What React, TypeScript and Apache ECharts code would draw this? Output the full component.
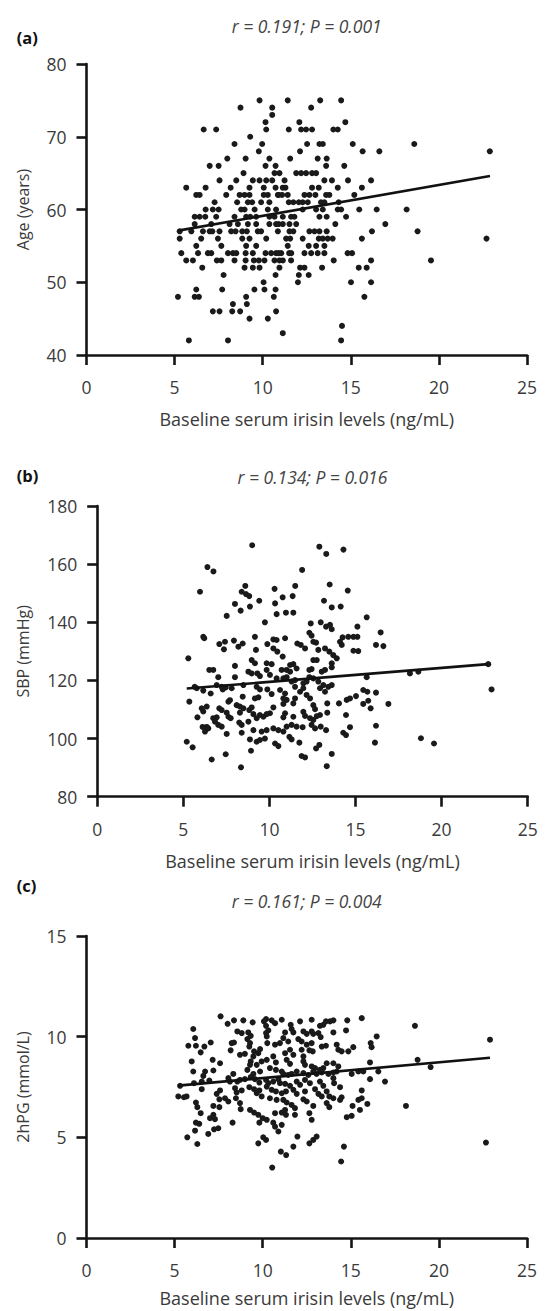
import React, { useEffect, useRef } from "react";
import * as echarts from "echarts";

const FONT = '"Open Sans", "Liberation Sans", sans-serif';

// Panel (a): irisin vs age
const pointsA: number[][] = [
[9.82,75],[8.74,74],[10.54,74],[10.54,73],[10.16,72],[10.2,71],[6.65,71],[7.36,71],[9.29,70],[8.4,69],[9.97,69],[9.78,68],[7.99,67],[9.03,67],[10.38,67],[6.99,66],[7.5,66],[10.16,66],[10.73,66],[8.91,65],[10.67,65],
[7.55,64],[8.5,64],[9.44,64],[9.82,64],[10.2,64],[10.54,64],
[5.66,63],[6.76,63],[8.18,63],[9.25,63],[10.06,63],[10.73,63],
[6.23,62],[6.42,62],[7.93,62],[8.69,62],[8.97,62],[9.25,62],[10.06,62],[10.29,62],[10.86,62],
[7.27,61],[8.55,61],[9.16,61],[9.4,61],[9.91,61],[10.38,61],
[6.76,60],[7.17,60],[7.5,60],[8.78,60],[8.97,60],[9.54,60],[10.29,60],[10.76,60],
[6.14,59],[6.42,59],[6.74,59],[7.36,59],[8.4,59],[9.06,59],[9.29,59],[9.63,59],[10.38,59],[10.67,59],
[6.14,58],[7.08,58],[8.12,58],[8.59,58],[9.16,58],[9.63,58],[10.38,58],[10.76,58],
[5.29,57],[5.95,57],[6.61,57],[6.99,57],[7.14,57],[7.55,57],[8.21,57],[8.46,57],[8.84,57],[9.1,57],[9.72,57],[9.91,57],[10.86,57],
[5.29,56],[6.51,56],[7.46,56],[8.84,56],[9.25,56],[10.2,56],
[6.23,55],[7.65,55],[9.06,55],[9.63,55],
[5.38,54],[6.33,54],[6.89,54],[7.08,54],[8.03,54],[8.31,54],[8.5,54],[9.03,54],[9.44,54],[10.16,54],[10.48,54],[10.76,54],
[5.66,53],[6.04,53],[7.4,53],[7.65,53],[8.4,53],[9.03,53],[9.5,53],[9.78,53],[10.1,53],[10.67,53],
[6.57,52],[8.97,52],[9.44,52],[9.82,52],
[7.78,51],[10.73,51],[10.05,50],
[6.23,49],[7.7,49],[9.53,49],[10.1,49],[10.73,49],
[5.19,48],[6.14,48],[6.38,48],[9.06,48],[10.63,48],
[8.31,47],[9.1,47],
[7.17,46],[7.55,46],[8.27,46],[8.72,46],[10.76,46],
[9.25,45],[10.29,45],[5.81,42],[8.03,42],
[11.42,75],[13.26,75],[14.45,75],[12.75,74],[12.08,72],[14.69,72],
[11.48,71],[12.18,71],[12.46,71],[12.8,71],[14.01,71],[14.26,71],
[12.52,69],[13.22,69],[13.41,69],[15.11,69],[12.12,68],[15.67,68],[16.62,68],
[11.56,67],[13.12,67],[13.63,67],[13.6,66],[14.63,66],
[10.95,65],[11.9,65],[12.18,65],[12.46,65],[12.8,65],[13.03,65],
[11.24,64],[13.5,64],[13.93,64],[14.84,64],[16.15,64],
[11.14,63],[11.29,63],[12.8,63],[13.18,63],[14.26,63],[15.63,63],
[10.91,62],[11.1,62],[11.42,62],[12.37,62],[12.65,62],[12.99,62],[13.6,62],[13.78,62],[15.2,62],
[11.48,61],[11.74,61],[12.05,61],[12.27,61],[12.56,61],[13.31,61],[13.5,61],[14.31,61],
[12.27,60],[13.03,60],[13.41,60],[14.26,60],[14.45,60],[15.48,60],[16.47,60],
[11.14,59],[11.61,59],[11.8,59],[13.22,59],[13.63,59],[14.73,59],
[10.91,58],[11.14,58],[11.52,58],[11.9,58],[14.12,58],[16.96,58],
[11.52,57],[11.74,57],[12.65,57],[12.94,57],[13.22,57],[13.63,57],[16.2,57],
[11.33,56],[11.56,56],[12.27,56],[13.18,56],[13.41,56],[13.69,56],[13.97,56],[15.63,56],
[11.42,55],[12.61,55],[13.03,55],[13.5,55],
[10.91,54],[11.05,54],[11.5,54],[11.62,54],[12.37,54],[12.75,54],[13.12,54],[13.5,54],[14.82,54],[15.07,54],
[10.95,53],[11.14,53],[11.61,53],[14.03,53],[16.15,53],
[10.95,52],[12.12,52],[12.37,52],[13.37,52],[15.45,52],[15.9,52],
[12.05,51],[12.61,51],[12.0,50],[15.01,50],[16.15,50],
[15.77,48],[14.5,44],[11.14,43],[14.45,42],
[18.6,69],[22.89,68],[18.17,60],[18.79,57],[22.7,56],[19.55,53]
];
const fitA: number[][] = [[5.2, 57.1], [22.9, 64.6]];

// Panel (b): irisin vs SBP
const pointsB: number[][] = [
[5.97,150.5],[8.39,150.5],[8.64,149.7],[8.83,149],[8.0,146.3],[8.33,144],[8.87,145.4],[9.41,147.4],[10.33,146.5],[10.42,142.8],[7.52,142.2],[9.74,140],
[6.16,135],[6.22,134.5],[7.09,132.5],[7.42,133.3],[7.36,130.7],[7.94,133.7],[8.2,131.6],[8.45,132.7],[9.16,135],[9.22,130.5],[9.88,132.5],[10.23,134.1],[10.42,133.9],[10.23,131],[10.46,129.9],
[5.29,127.6],[8.97,127],[9.16,125.9],[6.51,123.6],[6.74,123.6],[8.0,125],[9.84,125.9],[10.13,125.6],[8.78,123],[8.97,122.4],[9.3,122.4],[9.45,121.5],[9.84,123.6],[10.03,121.9],[7.03,121.1],[8.0,121.1],[10.42,120.7],
[5.66,117.8],[5.78,117.3],[6.16,116.5],[6.59,115.5],[7.29,116.9],[7.46,117.6],[7.81,117.3],[6.94,118.4],[7.23,117.8],[8.49,118.4],[9.26,117.8],[9.45,116.9],[9.88,116.9],[10.13,115.3],
[5.35,112.7],[7.62,112.7],[7.71,113.2],[8.45,114.4],[9.16,113.8],[9.36,114.2],[8.1,111.5],[8.29,111],[8.97,110.7],[6.07,110.4],[6.36,111],[6.16,109.3],
[5.82,107.3],[6.74,107],[6.94,107.3],[7.09,110.4],[7.23,109.8],[7.52,108.9],[7.62,107.5],[7.75,107],[8.29,108.9],[8.49,110.4],[8.83,109.8],[9.07,108.4],[9.26,107],[9.45,108.1],[9.65,107.5],[9.84,108.4],[10.03,108.7],[10.23,110.7],
[8.25,105.5],[8.39,104.7],[8.78,105.8],[6.12,104],[6.36,104],[6.26,102.4],[6.45,103.5],[6.84,105.8],[7.03,104.7],[7.23,104.1],[7.52,101.6],[8.39,102],[9.07,102.9],[9.55,102.4],[9.84,102.9],[10.23,103.5],[10.52,102.9],
[8.87,99.7],[9.26,98.9],[9.45,99.5],[9.74,100],[5.2,98.9],[5.54,97],[10.33,98.3],[10.52,97.4],[8.93,95.8],[6.65,92.8],[7.46,94.6],[8.35,90.1],
[10.77,148.6],[11.35,149],[10.96,143.3],[11.39,143.3],[13.17,147.4],[13.62,145.1],[14.14,145.4],[14.55,150.9],[15.65,141.7],[12.4,139.6],[12.98,140],[12.32,136.4],[12.45,135.4],[13.29,138.5],[13.52,139.1],[13.62,137.6],[14.58,135],[14.88,135],[15.11,135],[15.11,138.5],[14.25,134.8],[14.1,133.3],[14.2,132.2],[16.46,136.5],[16.19,132.2],[16.62,131.8],[12.55,133.3],[12.71,133],[10.91,134.5],[11.62,132.7],[11.82,132.2],[12.07,131],[12.84,130.5],[13.23,131],[13.48,129.9],[13.71,128.7],[13.91,127.6],[14.88,130.2],[15.16,130.1],[10.77,128.2],[12.55,127],[12.75,127],[13.62,125.9],[13.62,124.5],[11.2,125.3],[11.39,125.6],[10.71,123.6],[11.0,123.6],[11.2,123],[11.58,124.1],[12.32,123.6],[12.45,123.9],[13.04,123],[13.23,123.6],[12.32,121.1],[12.55,120.7],[15.65,121.1],[10.81,120.7],[11.0,121.1],[11.29,119.6],[11.49,120.1],[11.97,119],[12.16,119.6],[12.84,119.6],[13.13,118.4],[13.42,117.8],[13.62,118.4],[12.94,117.3],[13.23,116.1],[11.49,117.8],[11.78,116.1],[11.97,117.3],[10.62,116.7],[10.91,115.5],[15.45,116.7],[15.69,116.1],[16.19,115.8],[10.81,113.8],[11.0,113.3],[10.81,111.9],[11.49,113.8],[11.39,112.1],[12.16,115],[12.36,113.8],[14.04,112.1],[14.49,113.3],[14.68,113.8],[15.03,114.6],[15.45,111.9],[15.74,113],[15.88,110.4],[16.91,111.9],[10.91,108.7],[10.81,107.3],[11.39,107.5],[11.97,109.2],[12.07,107.8],[12.55,111.5],[12.65,110.1],[12.36,107],[12.55,106.4],[12.75,107.7],[12.94,108.1],[13.36,112.1],[13.36,108.9],[14.45,108.1],[11.0,104.1],[11.29,104.7],[11.58,104.1],[11.93,103.9],[12.45,104.7],[12.65,103.5],[12.98,104.1],[13.29,102.9],[14.68,103.9],[16.19,104.4],[14.29,102],[14.45,101.2],[10.81,102.4],[11.16,100.6],[11.29,99.7],[11.74,98.6],[16.13,98.6],[12.71,96.6],[12.9,97.8],[11.87,94],[12.07,93.5],[13.62,94.7],[13.33,90.5],
[18.16,122.4],[18.65,123],[22.71,125.6],[22.9,116.9],[18.8,100.1],[19.56,98.3],
[6.4,159],[6.75,157.5],[9.0,166.5],[8.6,152.5],[12.9,166],[13.3,163.5],[14.3,165],[11.9,158],[10.3,151.5],[11.5,152.5],[13.5,153]
];
const fitB: number[][] = [[5.2, 117.2], [22.7, 125.6]];

// Panel (c): irisin vs 2hPG
const pointsC: number[][] = [
[7.61,11.01],[8.01,10.64],[8.37,10.81],[8.9,10.81],[9.43,10.71],[10.07,10.76],[10.19,10.87],[10.51,10.81],[10.7,10.67],[6.06,10.38],[8.56,10.26],[8.81,10.18],[9.18,10.21],[9.32,10.04],[10.19,10.54],[10.32,10.31],[6.16,9.93],[5.78,9.55],[6.21,9.55],[6.69,9.51],[7.05,9.71],[6.48,9.22],[8.24,9.68],[8.37,9.71],[8.18,9.32],[9.13,9.88],[9.28,9.68],[9.24,9.51],[10.19,10.18],[10.23,10.01],[9.85,9.38],[9.75,9.18],[10.26,9.68],[10.7,9.6],[8.71,9.1],[8.99,9.15],[9.51,9.27],[9.47,9.02],[5.97,8.77],[7.16,8.85],[7.58,8.68],[9.32,8.77],[9.28,8.6],[9.66,8.6],[9.94,8.77],[10.23,8.85],[10.6,9.02],[10.75,8.72],[6.06,8.27],[6.73,8.27],[6.63,8.05],[7.2,8.32],[8.33,8.15],[9.13,8.35],[9.47,8.15],[9.85,8.27],[10.41,8.44],[10.75,8.35],[5.31,7.56],[6.1,7.69],[6.54,7.77],[6.97,7.82],[8.05,7.94],[8.14,7.77],[8.56,7.77],[8.71,7.85],[8.99,7.89],[9.32,7.99],[9.56,7.89],[9.81,7.72],[10.19,7.85],[10.32,7.69],[10.6,7.77],[10.89,7.89],[5.21,7.03],[5.53,6.99],[5.68,7.03],[6.54,7.39],[7.58,7.33],[7.39,7.16],[8.43,7.44],[8.52,7.23],[8.81,7.33],[9.24,7.49],[9.51,7.39],[9.81,7.33],[10.23,7.52],[10.51,7.36],[10.75,7.28],[7.54,6.89],[7.86,6.94],[8.05,6.78],[7.2,6.56],[7.54,6.5],[6.21,6.73],[6.29,6.5],[8.48,6.94],[8.71,6.7],[9.66,7.19],[9.94,7.03],[10.41,6.94],[10.79,6.86],[7.2,6.12],[7.01,5.95],[7.29,5.9],[6.48,6.2],[8.75,6.4],[9.28,6.36],[9.51,6.23],[9.75,6.12],[10.0,5.95],[10.23,5.87],[10.7,6.2],[6.21,5.73],[6.4,5.67],[8.29,5.73],[9.81,5.73],[10.6,5.73],[10.7,5.53],[6.16,5.33],[7.24,5.4],[7.48,5.45],[6.91,5.17],[5.72,5.0],[6.29,4.67],[9.75,4.7],[10.03,5.0],[10.19,4.87],[10.89,5.29],
[11.08,10.84],[11.59,10.59],[11.64,10.38],[12.12,10.76],[12.78,10.84],[13.25,10.54],[13.44,10.59],[13.59,10.76],[13.82,10.76],[14.01,10.81],[14.8,10.81],[15.62,10.92],[11.27,10.21],[11.17,9.93],[11.74,10.21],[12.31,10.26],[12.5,10.14],[12.78,10.26],[12.87,10.14],[13.16,10.18],[13.29,9.98],[14.01,10.21],[14.73,10.31],[16.47,10.01],[10.98,9.68],[11.45,9.76],[12.02,9.88],[12.21,9.76],[12.5,9.6],[12.78,9.68],[13.35,9.51],[13.59,9.55],[14.2,9.6],[14.29,9.35],[14.48,9.27],[14.86,9.27],[15.14,9.48],[16.13,9.68],[16.18,9.48],[11.27,9.18],[11.55,9.35],[11.74,9.1],[12.21,9.35],[12.31,9.02],[12.65,9.32],[12.84,9.27],[11.36,8.85],[11.55,8.65],[12.31,8.77],[12.4,8.6],[12.78,8.52],[12.97,8.44],[13.25,8.35],[13.44,8.44],[13.63,8.68],[14.01,8.68],[14.29,8.52],[16.09,8.72],[11.08,8.27],[11.17,8.15],[11.45,8.1],[11.64,8.15],[11.93,8.27],[12.31,8.19],[12.59,8.1],[12.87,8.27],[13.06,8.15],[13.35,8.22],[13.73,8.15],[14.01,8.22],[14.2,8.27],[15.05,8.15],[15.43,8.27],[15.71,8.27],[16.09,7.89],[16.94,7.77],[16.56,8.27],[10.98,7.69],[11.27,7.66],[11.55,7.56],[11.93,7.77],[12.12,7.61],[12.4,7.85],[12.68,7.69],[13.25,7.77],[13.44,7.56],[14.01,7.94],[14.05,7.69],[14.39,7.49],[11.08,7.19],[11.32,7.28],[11.74,7.36],[11.93,7.16],[12.4,7.28],[12.97,7.39],[13.16,7.16],[13.35,7.03],[13.63,7.28],[13.78,7.03],[14.01,6.94],[14.48,6.99],[14.39,6.86],[15.62,7.33],[15.62,6.94],[11.17,6.86],[11.36,6.73],[11.64,6.61],[11.83,6.45],[12.31,6.89],[12.5,6.78],[12.87,6.56],[13.63,6.7],[13.78,6.5],[15.1,6.56],[15.43,6.86],[15.94,6.66],[15.52,6.36],[11.08,6.23],[11.27,6.36],[11.32,6.12],[11.83,6.12],[12.65,6.2],[12.78,5.87],[14.77,6.0],[15.05,6.07],[11.08,5.62],[11.97,5.04],[12.65,4.7],[12.87,4.87],[13.06,5.04],[11.74,4.54],[14.61,4.54],
[18.64,10.54],[22.9,9.85],[18.79,8.85],[19.53,8.49],[18.13,6.56],[22.67,4.74],[10.54,3.5],[14.45,3.8],[11.03,4.29],[11.33,4.12]
];
const fitC: number[][] = [[5.2, 7.57], [22.9, 8.95]];

const panelLabels = ["(a)", "(b)", "(c)"];
const statTexts = ["r = 0.191; P = 0.001", "r = 0.134; P = 0.016", "r = 0.161; P = 0.004"];
const yNames = ["Age (years)", "SBP (mmHg)", "2hPG (mmol/L)"];
const xName = "Baseline serum irisin levels (ng/mL)";
const yRanges = [[40, 80, 10], [80, 180, 20], [0, 15, 5]];
const xRange = [0, 25, 5];

export default function App() {
  const ref = useRef<HTMLDivElement>(null);
  useEffect(() => {
    if (!ref.current) return;
    const chart = echarts.init(ref.current, null, { renderer: "svg" });
    const AX = "#151515";
    const LBL = "#3a3a3a";
    const grids = [
      { left: 86.5, top: 64, width: 440.5, height: 291 },
      { left: 97.2, top: 506, width: 430.5, height: 290.7 },
      { left: 86.5, top: 936, width: 440.5, height: 302 },
    ];
    const xNameGaps = [55, 55, 51];
    const yNameGaps = [56, 66, 56];
    const titleY = [26, 476.5, 901];
    const labelY = [37, 475, 885];
    const xAxes = grids.map((g, i) => ({
      type: "value",
      gridIndex: i,
      min: xRange[0],
      max: xRange[1],
      interval: xRange[2],
      name: xName,
      nameLocation: "middle",
      nameGap: xNameGaps[i],
      nameTextStyle: { fontFamily: FONT, fontSize: 18, color: LBL },
      axisLine: { show: true, onZero: false, lineStyle: { color: AX, width: 2.6 } },
      axisTick: { show: true, length: 10, lineStyle: { color: AX, width: 2.6 } },
      axisLabel: { margin: 23, fontFamily: FONT, fontSize: 17.5, color: LBL },
      splitLine: { show: false },
    }));
    const yAxes = grids.map((g, i) => ({
      type: "value",
      gridIndex: i,
      min: yRanges[i][0],
      max: yRanges[i][1],
      interval: yRanges[i][2],
      name: yNames[i],
      nameLocation: "middle",
      nameGap: yNameGaps[i],
      nameTextStyle: { fontFamily: FONT, fontSize: 16, color: LBL },
      axisLine: { show: true, onZero: false, lineStyle: { color: AX, width: 2.6 } },
      axisTick: { show: true, length: 10, lineStyle: { color: AX, width: 2.6 } },
      axisLabel: { margin: 20, fontFamily: FONT, fontSize: 17.5, color: LBL },
      splitLine: { show: false },
    }));
    const pts = [pointsA, pointsB, pointsC];
    const fits = [fitA, fitB, fitC];
    const series: any[] = [];
    pts.forEach((p, i) => {
      series.push({
        type: "scatter",
        xAxisIndex: i,
        yAxisIndex: i,
        data: p,
        symbolSize: 6,
        itemStyle: { color: "#1a1a1a", opacity: 1 },
      });
      series.push({
        type: "line",
        xAxisIndex: i,
        yAxisIndex: i,
        data: fits[i],
        symbol: "none",
        lineStyle: { color: "#111", width: 2.6 },
        z: 3,
      });
    });
    const graphics: any[] = [];
    grids.forEach((g, i) => {
      graphics.push({
        type: "text",
        x: 16.7,
        y: labelY[i],
        style: {
          text: panelLabels[i],
          fill: "#111",
          fontFamily: FONT,
          fontWeight: "bold",
          fontSize: 16.5,
          align: "left",
          verticalAlign: "middle",
        },
      });
      graphics.push({
        type: "text",
        x: g.left + g.width / 2,
        y: titleY[i],
        style: {
          text: statTexts[i],
          fill: "#444",
          fontFamily: FONT,
          fontStyle: "italic",
          fontSize: 17.5,
          align: "center",
          verticalAlign: "middle",
        },
      });
    });
    chart.setOption({
      animation: false,
      backgroundColor: "#fff",
      grid: grids,
      xAxis: xAxes,
      yAxis: yAxes,
      series,
      graphic: graphics,
    });
    return () => chart.dispose();
  }, []);
  return (
    <div
      ref={ref}
      style={{ position: "absolute", left: 0, top: 0, width: 547, height: 1311 }}
    />
  );
}
